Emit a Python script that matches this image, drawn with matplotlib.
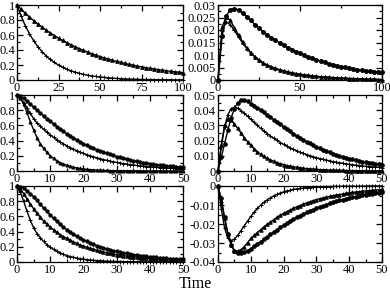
import matplotlib
matplotlib.use("Agg")
import matplotlib.pyplot as plt
import numpy as np
from matplotlib.ticker import MultipleLocator, FuncFormatter

plt.rcParams['font.family'] = ['Liberation Serif', 'DejaVu Serif']

# time grids
t100 = np.arange(0, 100.1, 2.5)
t50 = np.arange(0, 51, 1)

# top row
tl_slow = [1.0, 0.944, 0.890, 0.840, 0.792, 0.748, 0.706, 0.666, 0.628, 0.593, 0.559,
           0.527, 0.498, 0.470, 0.443, 0.418, 0.394, 0.372, 0.351, 0.331, 0.313,
           0.295, 0.278, 0.263, 0.248, 0.234, 0.221, 0.208, 0.196, 0.185, 0.175,
           0.165, 0.156, 0.147, 0.139, 0.131, 0.123, 0.116, 0.110, 0.104, 0.098]
tl_fast = [1.0, 0.851, 0.724, 0.616, 0.525, 0.446, 0.380, 0.323, 0.275, 0.234, 0.199,
           0.170, 0.144, 0.123, 0.105, 0.089, 0.076, 0.064, 0.055, 0.047, 0.040,
           0.034, 0.029, 0.025, 0.021, 0.018, 0.015, 0.013, 0.011, 0.009, 0.008,
           0.007, 0.006, 0.005, 0.004, 0.004, 0.003, 0.003, 0.002, 0.002, 0.002]
tr_circ = [0, 0.0175, 0.0255, 0.0282, 0.0286, 0.0280, 0.0268, 0.0254, 0.0238, 0.0222, 0.0207,
           0.0194, 0.0181, 0.0170, 0.0159, 0.0149, 0.0139, 0.0130, 0.0122, 0.0114, 0.0107,
           0.0100, 0.0093, 0.0087, 0.0081, 0.0076, 0.0071, 0.0066, 0.0062, 0.0058, 0.0054,
           0.0051, 0.0048, 0.0045, 0.0042, 0.0040, 0.0038, 0.0036, 0.0034, 0.0032, 0.0031]
tr_tri = [0, 0.0212, 0.0252, 0.0238, 0.0210, 0.0180, 0.0153, 0.0129, 0.0109, 0.0093, 0.0080,
          0.0069, 0.0060, 0.0053, 0.0047, 0.0041, 0.0037, 0.0033, 0.0029, 0.0026, 0.0023,
          0.0021, 0.0019, 0.0017, 0.0015, 0.0013, 0.0012, 0.0011, 0.0010, 0.0009, 0.0008,
          0.0007, 0.0006, 0.0006, 0.0005, 0.0004, 0.0004, 0.0003, 0.0003, 0.0002, 0.0002]
tr_line = [0, 0.0195, 0.0232, 0.0222, 0.0198, 0.0172, 0.0148, 0.0126, 0.0108, 0.0092, 0.0079,
           0.0068, 0.0059, 0.0052, 0.0046, 0.0041, 0.0036, 0.0032, 0.0028, 0.0025, 0.0022,
           0.0020, 0.0018, 0.0016, 0.0014, 0.0013, 0.0012, 0.0010, 0.0009, 0.0008, 0.0007,
           0.0007, 0.0006, 0.0005, 0.0005, 0.0004, 0.0004, 0.0003, 0.0003, 0.0002, 0.0002]

# middle row
ml_circ = [1.0, 0.985, 0.955, 0.92, 0.88, 0.84, 0.80, 0.765, 0.725, 0.69, 0.655,
           0.62, 0.585, 0.555, 0.52, 0.49, 0.465, 0.435, 0.41, 0.385, 0.36,
           0.34, 0.32, 0.30, 0.28, 0.265, 0.248, 0.232, 0.218, 0.204, 0.19,
           0.178, 0.167, 0.156, 0.146, 0.136, 0.127, 0.119, 0.111, 0.104, 0.097,
           0.091, 0.085, 0.079, 0.074, 0.069, 0.065, 0.061, 0.057, 0.053, 0.05]
ml_mid = [1.0, 0.96, 0.90, 0.83, 0.76, 0.69, 0.634, 0.59, 0.549, 0.511, 0.476,
          0.442, 0.412, 0.383, 0.357, 0.332, 0.309, 0.287, 0.267, 0.249, 0.231,
          0.215, 0.200, 0.186, 0.174, 0.161, 0.150, 0.140, 0.130, 0.121, 0.113,
          0.105, 0.098, 0.091, 0.084, 0.079, 0.073, 0.068, 0.063, 0.059, 0.055,
          0.051, 0.047, 0.044, 0.041, 0.038, 0.036, 0.033, 0.031, 0.029, 0.027]
ml_fast = [1.0, 0.96, 0.88, 0.77, 0.65, 0.54, 0.44, 0.36, 0.30, 0.245, 0.20,
           0.165, 0.135, 0.11, 0.09, 0.074, 0.06, 0.049, 0.04, 0.033, 0.027,
           0.022, 0.018, 0.015, 0.012, 0.010, 0.008, 0.007, 0.006, 0.005, 0.004,
           0.004, 0.003, 0.003, 0.002, 0.002, 0.002, 0.002, 0.001, 0.001, 0.001,
           0.001, 0.001, 0.001, 0.001, 0.001, 0, 0, 0, 0, 0]
mr_circ = [0, 0.009, 0.018, 0.027, 0.035, 0.041, 0.045, 0.0465, 0.0466, 0.0458, 0.0444,
           0.0430, 0.0415, 0.0400, 0.0385, 0.0370, 0.0354, 0.0338, 0.0322, 0.0306, 0.0290,
           0.0275, 0.0260, 0.0245, 0.0231, 0.0218, 0.0205, 0.0193, 0.0181, 0.0170, 0.0159,
           0.0149, 0.0139, 0.0130, 0.0122, 0.0114, 0.0106, 0.0099, 0.0093, 0.0087, 0.0081,
           0.0076, 0.0071, 0.0066, 0.0062, 0.0058, 0.0054, 0.0050, 0.0047, 0.0044, 0.0041]
mr_mid = [0, 0.016, 0.029, 0.037, 0.041, 0.042, 0.0413, 0.0398, 0.038, 0.036, 0.034,
          0.032, 0.030, 0.0281, 0.0263, 0.0246, 0.023, 0.0215, 0.0201, 0.0187, 0.0175,
          0.0163, 0.0152, 0.0142, 0.0133, 0.0124, 0.0116, 0.0108, 0.0101, 0.0094, 0.0088,
          0.0082, 0.0077, 0.0072, 0.0067, 0.0062, 0.0058, 0.0054, 0.0051, 0.0047, 0.0044,
          0.0041, 0.0038, 0.0036, 0.0034, 0.0031, 0.0029, 0.0027, 0.0026, 0.0024, 0.0022]
mr_tri = [0, 0.017, 0.030, 0.034, 0.0335, 0.031, 0.028, 0.025, 0.022, 0.0193, 0.0168,
          0.0146, 0.0127, 0.011, 0.0096, 0.0083, 0.0072, 0.0063, 0.0055, 0.0048, 0.0042,
          0.0036, 0.0032, 0.0028, 0.0024, 0.0021, 0.0018, 0.0016, 0.0014, 0.0012, 0.0011,
          0.0009, 0.0008, 0.0007, 0.0006, 0.0005, 0.0005, 0.0004, 0.0004, 0.0003, 0.0003,
          0.0003, 0.0002, 0.0002, 0.0002, 0.0002, 0.0001, 0.0001, 0.0001, 0.0001, 0.0001]

# bottom row
bl_circ = [1.0, 0.99, 0.97, 0.94, 0.90, 0.86, 0.81, 0.76, 0.71, 0.665, 0.62,
           0.575, 0.535, 0.495, 0.46, 0.425, 0.395, 0.365, 0.34, 0.315, 0.29,
           0.27, 0.25, 0.232, 0.215, 0.2, 0.186, 0.173, 0.161, 0.15, 0.14,
           0.13, 0.121, 0.113, 0.105, 0.098, 0.091, 0.085, 0.079, 0.074, 0.069,
           0.064, 0.06, 0.056, 0.052, 0.049, 0.046, 0.043, 0.04, 0.037, 0.035]
bl_tri = [1.0, 0.96, 0.90, 0.83, 0.76, 0.70, 0.64, 0.59, 0.54, 0.50, 0.46,
          0.425, 0.39, 0.36, 0.335, 0.31, 0.285, 0.265, 0.245, 0.225, 0.21,
          0.195, 0.18, 0.167, 0.155, 0.143, 0.133, 0.123, 0.114, 0.106, 0.098,
          0.091, 0.084, 0.078, 0.072, 0.067, 0.062, 0.058, 0.054, 0.05, 0.046,
          0.043, 0.04, 0.037, 0.034, 0.032, 0.03, 0.028, 0.026, 0.024, 0.022]
bl_plus = [1.0, 0.92, 0.80, 0.67, 0.55, 0.45, 0.375, 0.32, 0.27, 0.23, 0.195,
           0.165, 0.14, 0.118, 0.10, 0.085, 0.072, 0.061, 0.052, 0.044, 0.037,
           0.031, 0.026, 0.022, 0.019, 0.016, 0.013, 0.011, 0.009, 0.008, 0.007,
           0.006, 0.005, 0.004, 0.004, 0.003, 0.003, 0.002, 0.002, 0.002, 0.002,
           0.001, 0.001, 0.001, 0.001, 0.001, 0.001, 0.001, 0.001, 0.001, 0.001]
br_plus = [0, -0.012, -0.022, -0.0275, -0.0288, -0.028, -0.026, -0.0235, -0.021, -0.0185, -0.016,
           -0.0138, -0.0118, -0.0101, -0.0086, -0.0073, -0.0062, -0.0052, -0.0044, -0.0037, -0.0031,
           -0.0026, -0.0022, -0.0018, -0.0015, -0.0013, -0.0011, -0.0009, -0.0008, -0.0006, -0.0005,
           -0.0004, -0.0004, -0.0003, -0.0003, -0.0002, -0.0002, -0.0002, -0.0001, -0.0001, -0.0001,
           -0.0001, -0.0001, -0.0001, -0.0001, 0, 0, 0, 0, 0, 0]
br_tri = [0, -0.008, -0.017, -0.025, -0.031, -0.034, -0.0342, -0.0335, -0.032, -0.0298, -0.0276,
          -0.026, -0.0245, -0.023, -0.0215, -0.0202, -0.019, -0.0177, -0.0165, -0.0154, -0.0144,
          -0.0135, -0.0126, -0.0118, -0.011, -0.0103, -0.0096, -0.0089, -0.0083, -0.0077, -0.0072,
          -0.0067, -0.0063, -0.0059, -0.0055, -0.0051, -0.0048, -0.0045, -0.0042, -0.0039, -0.0036,
          -0.0034, -0.0032, -0.003, -0.0028, -0.0026, -0.0024, -0.0023, -0.0021, -0.002, -0.0018]
br_circ = [0, -0.0065, -0.0165, -0.025, -0.031, -0.0343, -0.0352, -0.0353, -0.0348, -0.034, -0.033,
           -0.0318, -0.0305, -0.0293, -0.028, -0.0268, -0.0255, -0.0243, -0.023, -0.0218, -0.0207,
           -0.0196, -0.0185, -0.0175, -0.0165, -0.0156, -0.0147, -0.0139, -0.0131, -0.0124, -0.0117,
           -0.011, -0.0104, -0.0098, -0.0092, -0.0086, -0.0081, -0.0076, -0.0072, -0.0067, -0.0063,
           -0.0059, -0.0056, -0.0052, -0.0049, -0.0046, -0.0043, -0.004, -0.0038, -0.0035, -0.0033]


def fmt(v, pos):
    return "%g" % round(v, 6)


def setup(ax, xlim, ylim, xmaj, ymaj):
    ax.set_xlim(*xlim)
    ax.set_ylim(*ylim)
    ax.xaxis.set_major_locator(MultipleLocator(xmaj))
    ax.xaxis.set_minor_locator(MultipleLocator(xmaj / 2))
    ax.yaxis.set_major_locator(MultipleLocator(ymaj))
    ax.yaxis.set_minor_locator(MultipleLocator(ymaj / 2))
    ax.xaxis.set_major_formatter(FuncFormatter(fmt))
    ax.yaxis.set_major_formatter(FuncFormatter(fmt))
    ax.tick_params(which="both", direction="in", top=True, right=True,
                   labelsize=9, width=0.9, pad=1.5)
    ax.tick_params(which="major", length=4)
    ax.tick_params(which="minor", length=2)
    for s in ax.spines.values():
        s.set_linewidth(0.9)


def curve(ax, x, y, marker, ms):
    ax.plot(x, y, color="k", lw=1.0, marker=marker, ms=ms, mew=0.7,
            clip_on=False)


fig = plt.figure(figsize=(3.9, 2.92), dpi=100)
lx, lw = 17 / 390, 166 / 390
rx, rw = 218 / 390, 164 / 390
rows = [(5, 80), (95, 171), (186, 262)]
axs = []
for top, bot in rows:
    b = 1 - bot / 292
    h = (bot - top) / 292
    axs.append((fig.add_axes([lx, b, lw, h]), fig.add_axes([rx, b, rw, h])))

ax = axs[0][0]
setup(ax, (0, 100), (0, 1), 25, 0.2)
curve(ax, t100, tl_slow, "^", 2.6)
curve(ax, t100, tl_fast, "+", 3)

ax = axs[0][1]
setup(ax, (0, 100), (0, 0.03), 50, 0.005)
curve(ax, t100, tr_circ, "o", 2.8)
curve(ax, t100, tr_tri, "^", 2.6)
curve(ax, t100, tr_line, "+", 2.5)

ax = axs[1][0]
setup(ax, (0, 50), (0, 1), 10, 0.2)
curve(ax, t50, ml_circ, "o", 2.4)
curve(ax, t50, ml_mid, "+", 2.5)
curve(ax, t50, ml_fast, "^", 2.2)

ax = axs[1][1]
setup(ax, (0, 50), (0, 0.05), 10, 0.01)
curve(ax, t50, mr_circ, "o", 2.6)
curve(ax, t50, mr_mid, "+", 2.5)
curve(ax, t50, mr_tri, "^", 2.5)

ax = axs[2][0]
setup(ax, (0, 50), (0, 1), 10, 0.2)
curve(ax, t50, bl_circ, "o", 2.4)
curve(ax, t50, bl_tri, "^", 2.5)
curve(ax, t50, bl_plus, "+", 2.5)

ax = axs[2][1]
setup(ax, (0, 50), (-0.04, 0), 10, 0.01)
curve(ax, t50, br_circ, "o", 2.6)
curve(ax, t50, br_tri, "^", 2.5)
curve(ax, t50, br_plus, "+", 2.5)

fig.text(0.5, 1 - 284 / 292, "Time", ha="center", va="center", fontsize=11.5)

fig.savefig("out.png", dpi=100)
